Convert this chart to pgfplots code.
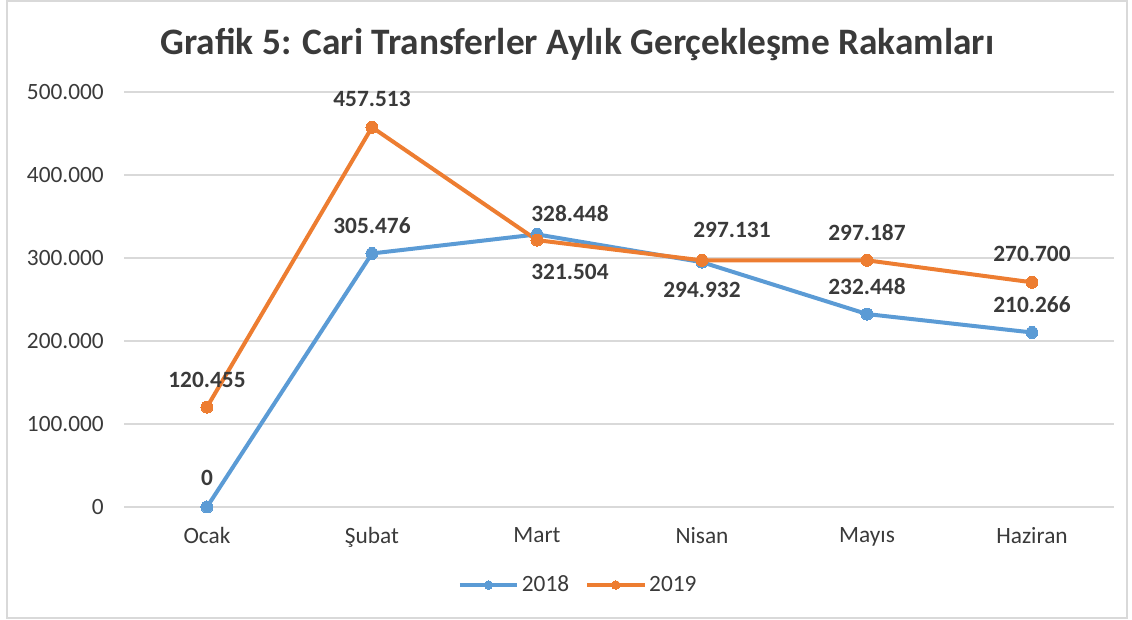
\documentclass[border=0pt]{standalone}
\usepackage{pgfplots}
\pgfplotsset{compat=1.18}
\usepackage{fontspec}
\setmainfont{Carlito}
\definecolor{cblue}{HTML}{5B9BD5}
\definecolor{corange}{HTML}{ED7D31}
\definecolor{ctext}{HTML}{3A3A3A}
\definecolor{cgrid}{HTML}{D9D9D9}
\begin{document}
\begin{tikzpicture}
\useasboundingbox (-93.375pt,-84.75pt) rectangle (755.625pt,380.25pt);
\draw[cgrid, line width=1.2pt] (-88.125pt,-83.25pt) rectangle (751.875pt,379.5pt);
\begin{axis}[
  scale only axis,
  width=742.5pt, height=311.25pt,
  xmin=-0.5, xmax=5.5, ymin=0, ymax=500000,
  scaled y ticks=false,
  xtick={0,1,2,3,4,5},
  xticklabels={Ocak,Şubat,Mart,Nisan,Mayıs,Haziran},
  ytick={0,100000,200000,300000,400000,500000},
  yticklabels={0,100.000,200.000,300.000,400.000,500.000},
  ymajorgrids,
  major grid style={cgrid, line width=0.9pt},
  axis line style={draw=none},
  tick style={draw=none},
  clip=false,
  ticklabel style={font=\fontsize{17.5}{21}\selectfont, text=ctext},
  yticklabel style={xshift=-12pt},
  xticklabel style={yshift=-12pt},
  point meta=explicit symbolic,
  nodes near coords,
  visualization depends on={\thisrow{dx} \as \ddx},
  visualization depends on={\thisrow{dy} \as \ddy},
  nodes near coords style={font=\bfseries\fontsize{17.5}{21}\selectfont, text=ctext, anchor=center, xshift=\ddx pt, yshift=\ddy pt},
  legend columns=2,
  legend style={draw=none, fill=none, at={(0.4586,-0.188)}, anchor=center, font=\fontsize{17.5}{21}\selectfont, text=ctext, /tikz/every even column/.append style={column sep=10pt}},
  legend image code/.code={\draw[#1, mark repeat=2, mark phase=2, mark size=3.2pt] plot coordinates {(0pt,0pt) (21.5pt,0pt) (43pt,0pt)};},
]
\addplot[cblue, line width=3pt, mark=*, mark size=4.5pt, mark options={fill=cblue, draw=cblue, line width=0pt}]
  table[x=x, y=y, meta=label] {
x y dx dy label
0 0 0 21.75 0
1 305476 0 21 305.476
2 328448 24.75 15.75 328.448
3 294932 0 -21 294.932
4 232448 0 21 232.448
5 210266 0 21 210.266
};
\addlegendentry{2018}
\addplot[corange, line width=3pt, mark=*, mark size=4.5pt, mark options={fill=corange, draw=corange, line width=0pt}]
  table[x=x, y=y, meta=label] {
x y dx dy label
0 120455 0 20.25 120.455
1 457513 0 21 457.513
2 321504 24.75 -24 321.504
3 297131 22.5 22.5 297.131
4 297187 0 21 297.187
5 270700 0 21 270.700
};
\addlegendentry{2019}
\end{axis}
\node[font=\bfseries\fontsize{28}{33}\selectfont, text=ctext] at (339.75pt,346.5pt) {Grafik 5: Cari Transferler Aylık Gerçekleşme Rakamları};
\end{tikzpicture}
\end{document}
